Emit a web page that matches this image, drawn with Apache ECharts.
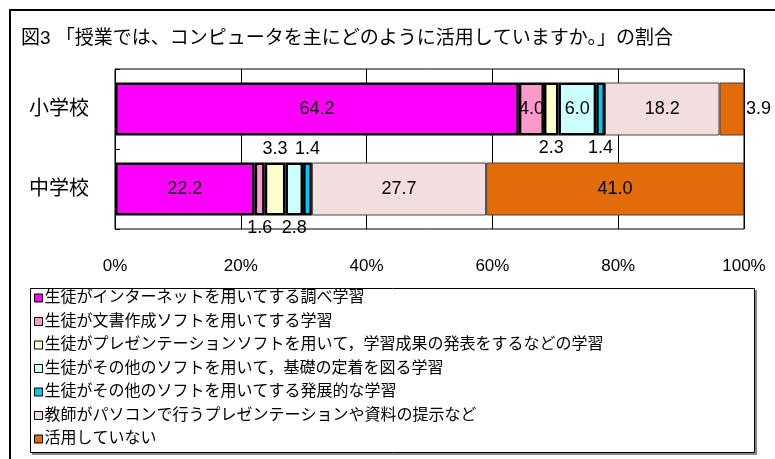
<!DOCTYPE html>
<html>
<head>
<meta charset="utf-8">
<script src="https://cdn.jsdelivr.net/npm/echarts@6/dist/echarts.min.js"></script>
<style>
  html, body { margin: 0; padding: 0; background: #fff; }
  #chart { width: 775px; height: 459px; }
</style>
</head>
<body>
<div id="chart"></div>
<script>
// School levels (rows of the chart)
const categories = ['小学校', '中学校'];

// Ways computers are used in class (stack order, left to right)
const usageTypes = [
  '生徒がインターネットを用いてする調べ学習',
  '生徒が文書作成ソフトを用いてする学習',
  '生徒がプレゼンテーションソフトを用いて，学習成果の発表をするなどの学習',
  '生徒がその他のソフトを用いて，基礎の定着を図る学習',
  '生徒がその他のソフトを用いてする発展的な学習',
  '教師がパソコンで行うプレゼンテーションや資料の提示など',
  '活用していない'
];

// Percentages per school level, in the same order as usageTypes
const elementaryShares = [64.2, 4.0, 2.3, 6.0, 1.4, 18.2, 3.9];
const juniorHighShares = [22.2, 1.6, 3.3, 2.8, 1.4, 27.7, 41.0];

// Percent axis ticks
const axisTicks = [0, 20, 40, 60, 80, 100];

// Segment look
const fillColors = ['#FF00FF', '#FF99CC', '#FFFFCC', '#CCFFFF', '#00C8F8', '#F2DEDE', '#E26B0A'];
const outlined = [true, true, true, true, true, false, false];

// Where each value label sits: [elementary, junior high]
const labelSpots = [
  ['inside', 'inside'],
  ['inside', 'bottom'],
  ['bottom', 'top'],
  ['inside', 'bottom'],
  ['bottom', 'top'],
  ['inside', 'inside'],
  ['right', 'inside']
];

const FONT = "'Liberation Sans', 'Noto Sans CJK JP', sans-serif";

const chart = echarts.init(document.getElementById('chart'), null, { renderer: 'canvas' });

const series = usageTypes.map((name, i) => ({
  name,
  type: 'bar',
  stack: 'share',
  barWidth: 53,
  itemStyle: {
    color: fillColors[i],
    borderColor: outlined[i] ? '#000' : '#444',
    borderWidth: outlined[i] ? 2.5 : 1
  },
  label: {
    show: true,
    color: '#000',
    fontFamily: FONT,
    fontSize: 18,
    formatter: p => p.value.toFixed(1)
  },
  data: [elementaryShares[i], juniorHighShares[i]].map((v, r) => ({
    value: v,
    label: { position: labelSpots[i][r], distance: labelSpots[i][r] === 'right' ? 2 : 4 }
  }))
}));

chart.setOption({
  animation: false,
  backgroundColor: '#fff',
  title: {
    text: '図3 「授業では、コンピュータを主にどのように活用していますか。」の割合',
    left: 21,
    top: 29,
    padding: 0,
    textStyle: { fontFamily: FONT, fontSize: 19, fontWeight: 'normal', color: '#000' }
  },
  grid: {
    left: 115, right: 31, top: 69, bottom: 230,
    show: true, borderColor: '#000', borderWidth: 1, backgroundColor: 'transparent'
  },
  xAxis: {
    type: 'value',
    min: axisTicks[0],
    max: axisTicks[axisTicks.length - 1],
    interval: axisTicks[1] - axisTicks[0],
    axisLine: { show: false },
    axisTick: { show: false },
    splitLine: { show: true, lineStyle: { color: '#000', width: 1 } },
    axisLabel: {
      formatter: '{value}%',
      margin: 29,
      color: '#000',
      fontFamily: FONT,
      fontSize: 17
    }
  },
  yAxis: {
    type: 'category',
    data: categories,
    inverse: true,
    axisLine: { show: true, lineStyle: { color: '#000', width: 1 } },
    axisTick: { show: true, inside: true, length: 5, lineStyle: { color: '#000' } },
    axisLabel: { margin: 26, color: '#000', fontFamily: FONT, fontSize: 20 }
  },
  legend: {
    orient: 'vertical',
    left: 34,
    top: 290,
    padding: 0,
    icon: 'rect',
    itemWidth: 8,
    itemHeight: 8,
    itemGap: 7.5,
    itemStyle: { borderColor: '#000', borderWidth: 1 },
    textStyle: { fontFamily: FONT, fontSize: 16, lineHeight: 16, color: '#000', padding: [0, 0, 0, -3] },
    data: usageTypes
  },
  graphic: [
    {
      type: 'rect',
      silent: true,
      z: -1,
      shape: { x: 10, y: 10, width: 820, height: 520 },
      style: { fill: 'none', stroke: '#000', lineWidth: 2 }
    },
    {
      type: 'rect',
      silent: true,
      z: -1,
      shape: { x: 32, y: 290, width: 725, height: 165 },
      style: { fill: '#888', stroke: null }
    },
    {
      type: 'rect',
      silent: true,
      z: -1,
      shape: { x: 30.5, y: 288.5, width: 724, height: 164 },
      style: { fill: '#fff', stroke: '#000', lineWidth: 1 }
    }
  ],
  series
});
</script>
</body>
</html>
